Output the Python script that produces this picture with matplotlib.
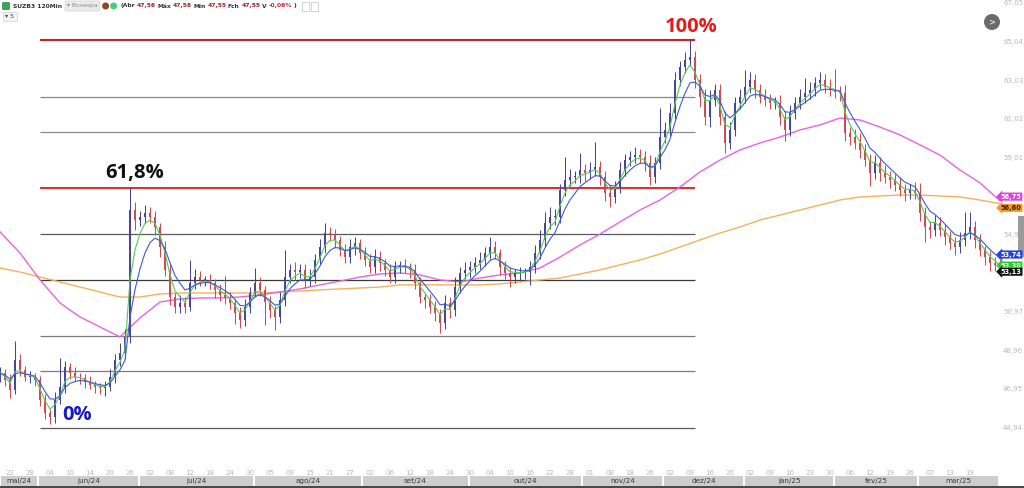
import matplotlib
matplotlib.use("Agg")
import matplotlib.pyplot as plt
import matplotlib.transforms as mtransforms
from matplotlib.patches import Rectangle, Ellipse, FancyBboxPatch
import numpy as np
import pandas as pd

# SUZB3 120Min - closes sampled along the chart (one candle every ~5 px)
closes = [
    47.78, 47.42, 46.90, 48.46, 47.94, 47.58, 47.58, 47.42, 46.38, 45.70,
    45.49, 46.38, 47.05, 48.10, 47.78, 47.58, 47.52, 47.31, 47.16, 47.05,
    47.00, 47.05, 47.58, 48.46, 48.82, 49.66, 56.27, 55.75, 55.91, 56.11,
    55.91, 55.39, 54.34, 53.15, 51.74, 51.22, 51.43, 51.22, 52.47, 52.78,
    52.63, 52.63, 52.47, 52.10, 51.84, 51.69, 51.43, 50.91, 50.54, 51.22,
    51.95, 52.47, 52.10, 51.48, 51.06, 50.70, 51.58, 52.78, 53.15, 53.04,
    53.15, 52.63, 52.78, 53.67, 54.34, 55.07, 54.97, 54.71, 54.19, 53.82,
    54.34, 54.55, 54.03, 53.67, 53.30, 53.82, 53.51, 53.15, 52.78, 53.30,
    53.41, 53.30, 53.15, 52.47, 51.74, 51.58, 51.22, 50.91, 50.39, 51.43,
    51.06, 52.26, 52.99, 53.15, 53.30, 53.51, 53.67, 54.03, 54.34, 54.03,
    53.30, 52.99, 52.78, 52.99, 52.99, 53.04, 53.30, 54.03, 54.71, 55.59,
    55.91, 55.91, 57.31, 57.83, 57.99, 57.99, 58.35, 58.20, 58.35, 58.51,
    57.99, 57.16, 56.95, 57.47, 58.35, 58.87, 59.03, 59.13, 59.03, 58.72,
    57.99, 58.72, 60.07, 60.44, 61.32, 63.04, 63.72, 64.08, 64.24, 63.04,
    62.16, 61.11, 62.00, 62.52, 61.11, 59.76, 60.44, 61.84, 62.16, 62.68,
    63.04, 62.52, 62.16, 62.00, 61.84, 61.84, 61.11, 60.44, 61.32, 61.84,
    62.16, 62.36, 62.52, 62.88, 63.04, 62.68, 62.52, 62.42, 62.36, 60.28,
    60.07, 59.76, 59.40, 58.87, 58.20, 58.72, 58.20, 57.99, 57.83, 57.57,
    57.31, 57.16, 57.31, 57.16, 56.12, 55.39, 55.23, 55.59, 55.23, 54.86,
    54.55, 54.34, 54.71, 55.07, 55.39, 54.71, 54.19, 53.82, 53.51, 53.41,
    53.13,
]
up_wick = [
    0.3, 0.2, 0.3, 1.0, 0.3, 0.2, 0.3, 0.2, 0.2, 0.3,
    0.2, 0.4, 1.5, 0.3, 0.2, 0.3, 0.2, 0.2, 0.3, 0.2,
    0.2, 0.3, 0.4, 0.3, 0.5, 0.4, 1.15, 0.4, 0.3, 0.4,
    0.3, 0.3, 0.2, 0.3, 0.3, 0.2, 0.4, 0.3, 1.2, 0.4,
    0.3, 0.2, 0.3, 0.2, 0.3, 1.0, 0.3, 0.2, 0.3, 0.4,
    0.3, 0.8, 0.3, 0.2, 0.3, 0.2, 0.4, 1.4, 0.3, 0.4,
    0.3, 0.3, 0.4, 0.3, 0.4, 0.5, 0.3, 0.3, 0.2, 0.3,
    0.4, 0.3, 0.2, 0.3, 0.3, 0.4, 0.3, 0.2, 0.3, 0.3,
    0.2, 0.3, 0.2, 0.3, 0.3, 0.2, 0.3, 0.3, 0.2, 0.4,
    0.3, 0.5, 0.3, 0.4, 0.3, 0.3, 0.4, 0.3, 0.5, 0.3,
    0.2, 0.3, 0.3, 0.2, 0.3, 0.2, 0.3, 0.4, 0.5, 0.6,
    0.5, 0.4, 0.3, 1.2, 0.4, 0.3, 0.9, 0.3, 0.4, 1.3,
    0.3, 0.3, 0.4, 0.3, 0.4, 0.3, 0.3, 0.4, 0.3, 0.3,
    0.4, 0.3, 1.5, 0.4, 0.5, 0.4, 0.3, 0.4, 0.9, 0.3,
    0.3, 0.4, 0.5, 0.3, 0.3, 0.3, 0.4, 0.3, 0.4, 0.9,
    0.4, 0.3, 0.3, 0.4, 0.3, 0.3, 0.4, 0.3, 0.4, 0.3,
    0.4, 0.8, 0.4, 0.3, 0.4, 0.3, 0.4, 1.1, 0.3, 0.4,
    0.3, 0.4, 0.5, 0.3, 0.3, 0.4, 0.3, 0.4, 0.3, 0.3,
    0.4, 0.3, 0.3, 0.4, 0.5, 0.3, 0.3, 0.4, 0.3, 0.3,
    0.3, 0.3, 0.4, 1.1, 0.8, 0.3, 0.3, 0.2, 0.3, 0.3,
    0.3,
]
down_wick = [
    0.3, 0.3, 0.4, 0.2, 0.3, 0.2, 0.3, 0.3, 0.3, 0.3,
    0.35, 0.3, 0.2, 0.3, 0.3, 0.2, 0.3, 0.3, 0.2, 0.3,
    0.3, 0.4, 0.2, 0.3, 0.3, 0.3, 0.3, 0.5, 0.3, 0.3,
    0.3, 0.4, 0.5, 0.3, 0.4, 0.3, 0.3, 0.3, 0.2, 0.3,
    0.3, 0.3, 0.3, 0.4, 0.3, 0.3, 0.3, 0.6, 0.4, 0.3,
    0.3, 0.2, 0.3, 1.2, 0.4, 0.7, 0.3, 0.3, 0.3, 0.4,
    0.3, 0.4, 0.3, 0.3, 0.2, 0.3, 0.3, 0.4, 0.3, 0.3,
    0.3, 0.4, 0.3, 0.3, 0.3, 0.3, 0.4, 0.3, 0.3, 0.3,
    0.3, 0.3, 0.4, 0.3, 0.3, 0.4, 0.3, 0.4, 0.5, 0.3,
    0.4, 0.3, 0.3, 0.3, 0.4, 0.3, 0.3, 0.3, 0.3, 0.3,
    0.4, 0.3, 0.5, 0.3, 0.4, 0.3, 0.7, 0.3, 0.3, 0.3,
    0.3, 0.4, 0.3, 0.3, 0.3, 0.3, 0.3, 0.4, 0.3, 0.3,
    0.4, 0.4, 0.5, 0.3, 0.3, 0.3, 0.3, 0.3, 0.3, 0.4,
    0.4, 0.3, 0.3, 0.3, 0.3, 0.3, 0.3, 0.3, 0.3, 0.4,
    0.5, 0.4, 0.5, 0.3, 0.4, 0.5, 0.3, 0.3, 0.3, 0.3,
    0.3, 0.4, 0.3, 0.3, 0.3, 0.3, 0.4, 0.6, 0.3, 0.3,
    0.3, 0.3, 0.3, 0.3, 0.3, 0.3, 0.3, 0.3, 0.4, 0.4,
    0.4, 0.3, 0.4, 0.3, 0.7, 0.3, 0.4, 0.3, 0.4, 0.3,
    0.3, 0.4, 0.3, 0.3, 0.4, 0.8, 0.4, 0.3, 0.3, 0.4,
    0.3, 0.4, 0.3, 0.3, 0.3, 0.4, 0.3, 0.4, 0.4, 0.3,
    0.3,
]

# long moving averages, one reading every 4 candles
ma_magenta = [
    55.13, 54.03, 52.63, 51.43, 50.70, 50.18, 49.66, 50.65, 51.48, 51.64,
    51.69, 51.69, 51.74, 51.85, 52.00, 52.16, 52.37, 52.57, 52.78, 52.94,
    52.99, 52.89, 52.63, 52.52, 52.73, 52.89, 52.99, 53.25, 53.82, 54.45,
    55.02, 55.65, 56.27, 56.79, 57.47, 58.25, 58.87, 59.40, 59.76, 60.07,
    60.44, 60.70, 61.06, 60.96, 60.59, 60.18, 59.66, 59.13, 58.35, 57.68,
    56.75,
]
ma_orange = [
    53.25, 53.04, 52.78, 52.52, 52.26, 52.00, 51.74, 51.74, 51.90, 51.95,
    51.95, 51.95, 51.95, 51.95, 52.00, 52.05, 52.11, 52.16, 52.21, 52.26,
    52.37, 52.37, 52.37, 52.37, 52.37, 52.42, 52.52, 52.63, 52.73, 52.94,
    53.15, 53.41, 53.67, 53.98, 54.34, 54.71, 55.07, 55.39, 55.75, 56.01,
    56.27, 56.53, 56.79, 56.95, 57.00, 57.05, 57.05, 57.00, 56.95, 56.79,
    56.60,
]

fib_low, fib_high = 44.92, 65.12
fib_levels = [0, 0.146, 0.236, 0.382, 0.5, 0.618, 0.764, 0.854, 1.0]
fib_colors = ["#5a5a5a", "#7d7d7d", "#7d7d7d", "#3a3a3a", "#5a5a5a",
              "#e03030", "#8a8a8a", "#8a8a8a", "#d42020"]
fib_start, fib_end = 8, 139

price_ticks = [67.05, 65.04, 63.03, 61.02, 59.01, 57.00, 54.99, 52.98,
               50.97, 48.96, 46.95, 44.94]
hidden_ticks = [57.00, 52.98]  # covered by the price tags in the reference
day_labels = ["22", "28", "04", "10", "14", "20", "26", "02", "08", "12",
              "18", "24", "30", "05", "09", "15", "21", "27", "02", "06",
              "12", "18", "24", "30", "04", "10", "16", "22", "28", "01",
              "08", "18", "26", "02", "09", "16", "20", "02", "09", "16",
              "23", "30", "06", "12", "19", "26", "07", "13", "19"]
month_labels = ["mai/24", "jun/24", "jul/24", "ago/24", "set/24", "out/24",
                "nov/24", "dez/24", "jan/25", "fev/25", "mar/25"]
month_starts = [0, 7.6, 27.8, 50.8, 72.4, 93.8, 116.4, 132.6, 148.8, 166.8,
                183.6, 199.8]

W, H = 1024, 488
XMAX = 204.8
fig = plt.figure(figsize=(W / 100, H / 100), dpi=100)
fig.patch.set_facecolor("white")
renderer = fig.canvas.get_renderer()


def fx(px):
    return px / W


def fy(py):
    return 1 - py / H


ax = fig.add_axes([0, 22 / H, 1, 466 / H])
ax.set_xlim(0, XMAX)
ax.set_ylim(42.94, 67.206)
for s in ax.spines.values():
    s.set_visible(False)

# fibonacci retracement lines
rng = fib_high - fib_low
for lvl, col in zip(fib_levels, fib_colors):
    v = fib_low + lvl * rng
    lw = 1.5 if lvl in (0.618, 1.0) else 0.9
    ax.hlines(v, fib_start, fib_end, colors=col, lw=lw, zorder=1)

# candles
closes = np.array(closes)
opens = np.concatenate([[47.6], closes[:-1]])
idx = np.arange(len(closes))
highs = np.maximum(opens, closes) + np.array(up_wick)
lows = np.minimum(opens, closes) - np.array(down_wick)
up = closes >= opens
col = np.where(up, "#4b4597", "#cf4a52")
ax.vlines(idx, lows, highs, colors=col, lw=0.75, zorder=3)
body = np.maximum(np.abs(closes - opens), 0.05)
ax.bar(idx, body, bottom=np.minimum(opens, closes), width=0.55, color=col,
       lw=0, zorder=3)

# moving averages
s = pd.Series(closes)
ema_fast = s.ewm(span=3, adjust=False).mean().values
ema_mid = s.ewm(span=6, adjust=False).mean().values
ma_x = np.arange(0, len(closes), 4)
ax.plot(ma_x, ma_orange, color="#f2b25c", lw=1.0, zorder=2)
ax.plot(ma_x, ma_magenta, color="#e565e0", lw=1.0, zorder=2)
ax.plot(idx, ema_fast, color="#55cc55", lw=0.8, zorder=4)
ax.plot(idx, ema_mid, color="#4059d6", lw=0.8, zorder=4)

# fib labels
ax.annotate("61,8%", (26.9, fib_low + 0.618 * rng), xytext=(0, 4),
            textcoords="offset points", ha="center", va="bottom",
            fontsize=14.5, fontweight="bold", family="Open Sans", color="#111111")
ax.annotate("100%", (138.2, fib_high), xytext=(0, 2),
            textcoords="offset points", ha="center", va="bottom",
            fontsize=14.5, fontweight="bold", family="Open Sans", color="#e01e1e")
ax.annotate("0%", (12.4, fib_low), xytext=(0, 2),
            textcoords="offset points", ha="left", va="bottom",
            fontsize=14.5, fontweight="bold", family="Open Sans", color="#1a1acc")

# axes ticks
ax.yaxis.tick_right()
ax.set_yticks(price_ticks)
ax.set_yticklabels(["" if v in hidden_ticks else f"{v:.2f}".replace(".", ",")
                    for v in price_ticks])
ax.tick_params(axis="y", length=0, pad=-15, labelsize=5, labelcolor="#b8b8b8")
ax.set_xticks(np.arange(2, 2 + 4 * len(day_labels), 4))
ax.set_xticklabels(day_labels)
ax.tick_params(axis="x", length=0, pad=3, labelsize=5, labelcolor="#b8b8b8")

# right side widgets (under the price tags)
fig.patches.append(Ellipse((fx(992), fy(22)), fx(16), 16 / H, transform=fig.transFigure,
                           fc="#6a6a6a", ec="none"))
fig.text(fx(992), fy(22), ">", fontsize=6, color="white", ha="center", va="center")
ax.add_patch(Rectangle((fx(1018), fy(257)), fx(6), 41 / H, transform=fig.transFigure,
                       fc="#9a9a9a", ec="none", zorder=5))

# price tags on the right
blend = mtransforms.blended_transform_factory(fig.transFigure, ax.transData)
tags = [
    (ma_magenta[-1], 3, "#e03fe0", "white"),
    (ma_orange[-1], -3, "#f39a2a", "#3a2000"),
    (ema_fast[-1], 0, "#2ecc2e", "white"),
    (ema_mid[-1], 3, "#2440e0", "white"),
    (closes[-1], -1, "#111111", "white"),
]
for val, dy, bg, fg in tags:
    ax.annotate(f"{val:.2f}".replace(".", ","), (fx(1000.5), val),
                xycoords=blend, xytext=(0, dy), textcoords="offset points",
                ha="left", va="center", fontsize=4.8, fontweight="bold",
                color=fg, zorder=10, annotation_clip=False,
                bbox=dict(boxstyle="larrow,pad=0.16", fc=bg, ec="none"))

# month bar
mx = fig.add_axes([0, 0, 1, 12 / H])
mx.set_xlim(0, XMAX)
mx.set_ylim(0, 12)
mx.axis("off")
mx.add_patch(Rectangle((0, 0), XMAX, 2.2, color="#4a4a4a", lw=0))
for i, lab in enumerate(month_labels):
    a, b = month_starts[i], month_starts[i + 1]
    mx.add_patch(Rectangle((a + 0.2, 2.2), b - a - 0.4, 9.8, color="#cdcdcd", lw=0))
    mx.text((a + b) / 2, 7, lab, ha="center", va="center", fontsize=5.2,
            color="#3a3a3a")


# header, laid out piece by piece
def put(x, y, text, color, size=4.3, weight="bold", gap=1.6):
    t = fig.text(fx(x), fy(y), text, fontsize=size, color=color, va="center",
                 fontweight=weight)
    bb = t.get_window_extent(renderer)
    return bb.x1 + gap


fig.patches.append(FancyBboxPatch((fx(2), fy(10)), fx(8), 8 / H,
                                  boxstyle="round,pad=0,rounding_size=0.002",
                                  transform=fig.transFigure, fc="#3aa55a", ec="none"))
x = put(13, 6, "SUZB3 120Min", "#333333", gap=3)
box_x = x
x = put(x + 2, 6, "\u25be Bovespa", "#8a8a8a", weight="normal", gap=2)
fig.patches.append(FancyBboxPatch((fx(box_x), fy(11)), fx(x - box_x), 10 / H,
                                  boxstyle="round,pad=0,rounding_size=0.002",
                                  transform=fig.transFigure, fc="#ececec",
                                  ec="#d0d0d0", lw=0.5, zorder=0))
for dx, c in ((6, "#8b4a20"), (14, "#45d07a")):
    fig.patches.append(Ellipse((fx(x + dx), fy(6)), fx(7), 7 / H,
                               transform=fig.transFigure, fc=c, ec="none"))
x += 21
header = [("(Abr", "#333333"), ("47,56", "#a0202a"), ("M\u00e1x", "#333333"),
          ("47,58", "#a0202a"), ("Min", "#333333"), ("47,55", "#a0202a"),
          ("Fch", "#333333"), ("47,55", "#a0202a"), ("V", "#333333"),
          ("-0,06%", "#d0202a"), (")", "#333333")]
for t, c in header:
    x = put(x, 6, t, c)
x += 4
for k in range(2):
    fig.patches.append(Rectangle((fx(x + 9 * k), fy(11)), fx(7), 9 / H,
                                 transform=fig.transFigure, fc="white",
                                 ec="#c0c0c0", lw=0.5))
fig.patches.append(Rectangle((fx(3), fy(21)), fx(14), 9 / H, transform=fig.transFigure,
                             fc="#f4f4f4", ec="#d0d0d0", lw=0.5))
fig.text(fx(5), fy(16.5), "\u25be 5", fontsize=4.5, color="#444444", va="center")

fig.savefig("out.png", dpi=100)
